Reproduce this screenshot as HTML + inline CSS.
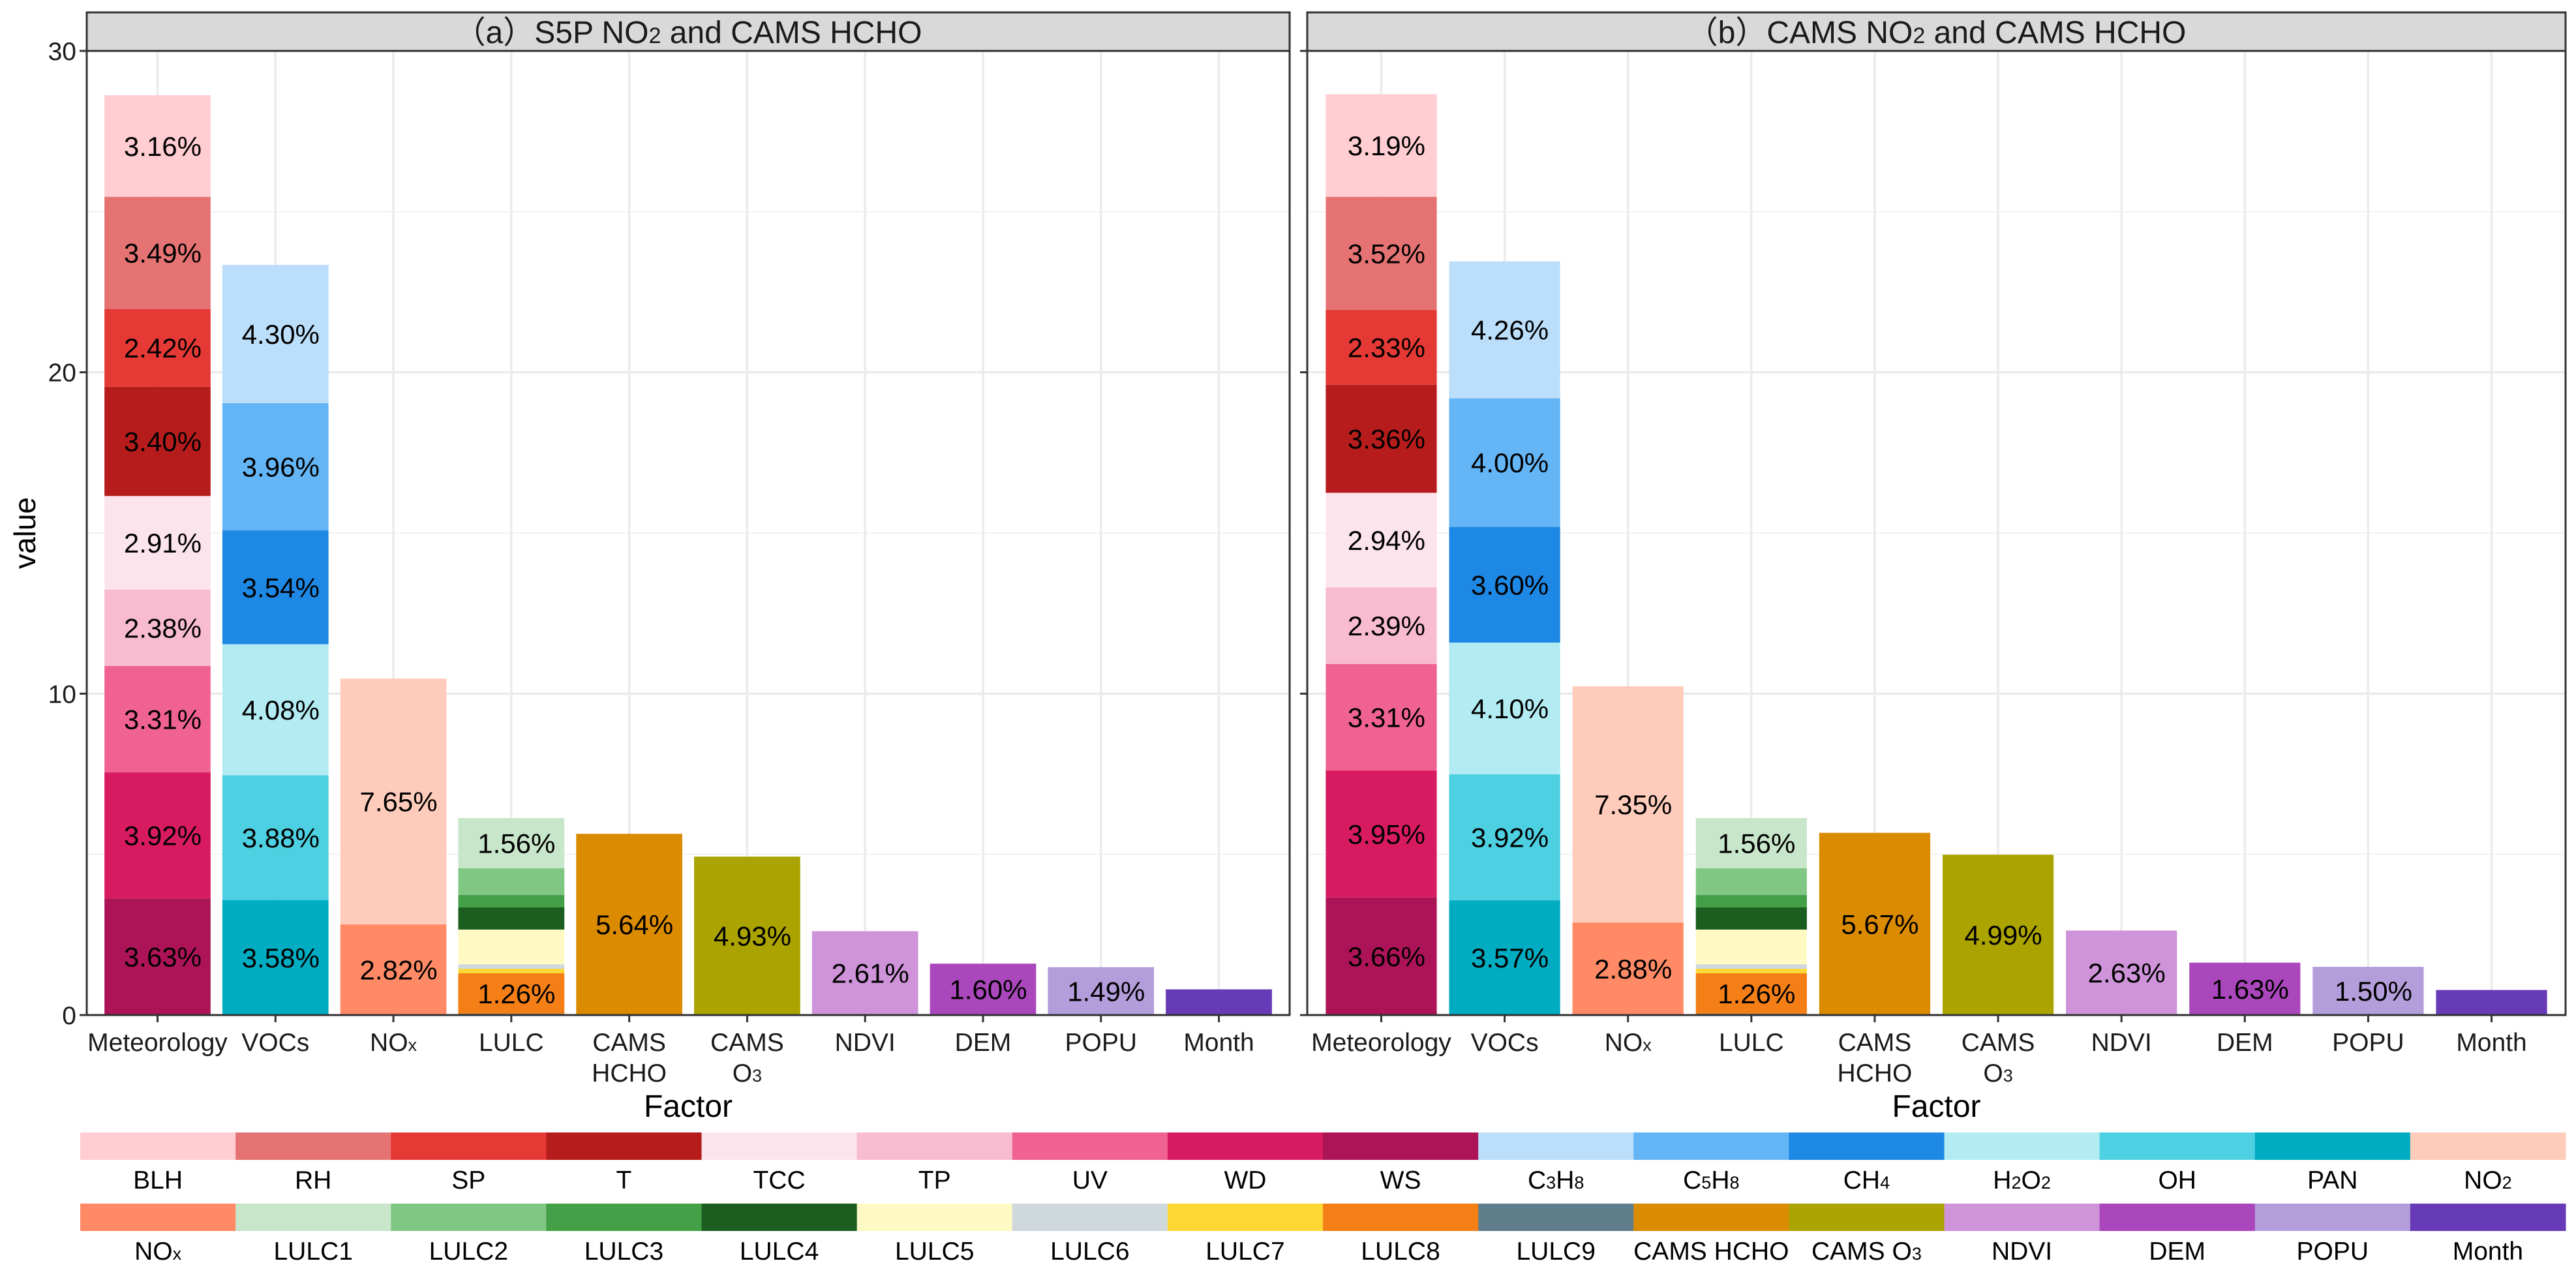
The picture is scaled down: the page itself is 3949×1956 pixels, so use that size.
<!DOCTYPE html>
<html><head><meta charset="utf-8"><style>
html,body{margin:0;padding:0;background:#fff;}
svg{display:block;font-family:"Liberation Sans",Arial,sans-serif;}
</style></head><body>
<svg id="chart" xmlns="http://www.w3.org/2000/svg" width="3949" height="1956" viewBox="0 0 3949 1956">
<rect x="0" y="0" width="3949" height="1956" fill="#fff"/>
</svg>
<script>
const factors = ['Meteorology','VOCs','NOx','LULC','CAMS HCHO','CAMS O3','NDVI','DEM','POPU','Month'];
const stackMet = ['WS','WD','UV','TP','TCC','T','SP','RH','BLH'];
const stackVOC = ['PAN','OH','H2O2','CH4','C5H8','C3H8'];
const stackNOx = ['NOx','NO2'];
const stackLULC = ['LULC9','LULC8','LULC7','LULC6','LULC5','LULC4','LULC3','LULC2','LULC1'];
const metA = [3.63,3.92,3.31,2.38,2.91,3.40,2.42,3.49,3.16];
const vocA = [3.58,3.88,4.08,3.54,3.96,4.30];
const noxA = [2.82,7.65];
const lulcA = [0.04,1.26,0.14,0.14,1.08,0.69,0.39,0.83,1.56];
const singleA = [5.64,4.93,2.61,1.60,1.49,0.80];
const metB = [3.66,3.95,3.31,2.39,2.94,3.36,2.33,3.52,3.19];
const vocB = [3.57,3.92,4.10,3.60,4.00,4.26];
const noxB = [2.88,7.35];
const lulcB = [0.04,1.26,0.14,0.14,1.08,0.69,0.39,0.83,1.56];
const singleB = [5.67,4.99,2.63,1.63,1.50,0.78];
const yTicks = [0,10,20,30];
const legendRow1 = ['BLH','RH','SP','T','TCC','TP','UV','WD','WS','C3H8','C5H8','CH4','H2O2','OH','PAN','NO2'];
const legendRow2 = ['NOx','LULC1','LULC2','LULC3','LULC4','LULC5','LULC6','LULC7','LULC8','LULC9','CAMS HCHO','CAMS O3','NDVI','DEM','POPU','Month'];
const colors = {BLH:'#FFCDD2',RH:'#E57373',SP:'#E53935',T:'#B71C1C',TCC:'#FCE4EC',TP:'#F8BBD0',UV:'#F06292',WD:'#D81B60',WS:'#AD1457',
C3H8:'#BBDEFB',C5H8:'#64B5F6',CH4:'#1E88E5',H2O2:'#B2EBF2',OH:'#4DD0E1',PAN:'#00ACC1',NO2:'#FFCCBC',NOx:'#FF8A65',
LULC1:'#C8E6C9',LULC2:'#81C784',LULC3:'#43A047',LULC4:'#1B5E20',LULC5:'#FFF9C4',LULC6:'#CFD8DC',LULC7:'#FDD835',LULC8:'#F57F17',LULC9:'#607D8B',
'CAMS HCHO':'#DB8B00','CAMS O3':'#ABA300',NDVI:'#CE93D8',DEM:'#AB47BC',POPU:'#B39DDB',Month:'#673AB7'};

const NS='http://www.w3.org/2000/svg';
const svg=document.getElementById('chart');
function mk(tag,attrs,parent){const e=document.createElementNS(NS,tag);for(const k in attrs)e.setAttribute(k,attrs[k]);(parent||svg).appendChild(e);return e;}
const subMap={NO2:['NO','2'],O3:['O','3'],C3H8:['C','3','H','8'],C5H8:['C','5','H','8'],CH4:['CH','4'],H2O2:['H','2','O','2'],NOx:['NO','x'],'CAMS O3':['CAMS O','3']};
function richText(t,str,fs){
  const parts=subMap[str];
  if(!parts){t.textContent=str;return;}
  parts.forEach((p,i)=>{const s=mk('tspan',{},t);s.textContent=p;if(i%2===1)s.setAttribute('font-size',Math.round(fs*0.7));});
}

const plotTop=78,plotBottom=1556,yMax=30;
function yScale(v){return plotBottom-(v/yMax)*(plotBottom-plotTop);}

function drawPanel(key,left,right,title,met,voc,nox,lulc,single,showLabels){
  const g=mk('g',{});
  
  
  const w=right-left, step=w/(factors.length+0.2);
  const xs=i=>left+(0.6+i)*step;
  const bw=0.9*step;
  mk('rect',{x:left,y:plotTop,width:w,height:plotBottom-plotTop,fill:'#fff'},g);
  [5,15,25].forEach(v=>{mk('line',{x1:left,x2:right,y1:yScale(v),y2:yScale(v),stroke:'#F2F2F2','stroke-width':2},g);});
  yTicks.forEach(v=>{mk('line',{x1:left,x2:right,y1:yScale(v),y2:yScale(v),stroke:'#EBEBEB','stroke-width':3.5},g);});
  factors.forEach((f,i)=>{mk('line',{x1:xs(i),x2:xs(i),y1:plotTop,y2:plotBottom,stroke:'#EBEBEB','stroke-width':3.5},g);});
  const stacks=[[stackMet,met],[stackVOC,voc],[stackNOx,nox],[stackLULC,lulc]];
  factors.forEach((f,i)=>{
    let names,vals;
    if(i<4){names=stacks[i][0];vals=stacks[i][1];}else{names=[f];vals=[single[i-4]];}
    let cum=0;
    names.forEach((n,j)=>{
      const v=vals[j];
      const r=mk('rect',{x:xs(i)-bw/2,y:yScale(cum+v),width:bw,height:yScale(cum)-yScale(cum+v),fill:colors[n]},g);
      
      
      if(v>=1.2){
        const t=mk('text',{x:xs(i)+8,y:yScale(cum+v/2)+15,'font-size':42,'text-anchor':'middle',fill:'#000'},g);
        t.textContent=v.toFixed(2)+'%';
        
        
      }
      cum+=v;
    });
    mk('line',{x1:xs(i),x2:xs(i),y1:plotBottom,y2:plotBottom+11,stroke:'#333','stroke-width':3},g);
    const lines=f==='CAMS HCHO'?['CAMS','HCHO']:(f==='CAMS O3'?['CAMS','O3']:[f]);
    lines.forEach((ln,k)=>{
      const t=mk('text',{x:xs(i),y:1611+k*47,'font-size':39,'text-anchor':'middle',fill:'#1a1a1a'},g);
      richText(t,ln,39);
      
      
    });
  });
  yTicks.forEach(v=>{
    mk('line',{x1:left-11,x2:left,y1:yScale(v),y2:yScale(v),stroke:'#333','stroke-width':3},g);
    if(showLabels){
      const t=mk('text',{x:left-16,y:yScale(v)+14,'font-size':39,'text-anchor':'end',fill:'#1a1a1a'},g);
      t.textContent=v;
      
      
    }
  });
  mk('rect',{x:left,y:plotTop,width:w,height:plotBottom-plotTop,fill:'none',stroke:'#333','stroke-width':3},g);
  const s=mk('rect',{x:left,y:19,width:w,height:plotTop-19,fill:'#D9D9D9',stroke:'#333','stroke-width':3},g);
  
  
  const st=mk('text',{x:(left+right)/2,y:66,'font-size':48,'text-anchor':'middle',fill:'#1a1a1a'},g);
  st.setAttribute('font-family','"Liberation Sans","Noto Sans CJK SC",sans-serif');
  title.forEach((p,i)=>{const sp=mk('tspan',{},st);sp.textContent=p;if(i%2===1)sp.setAttribute('font-size',34);});
  
  
  const ft=mk('text',{x:(left+right)/2,y:1712,'font-size':48,'text-anchor':'middle',fill:'#000'},g);
  ft.textContent='Factor';
  
  
}
drawPanel('a',133,1977,['（a）S5P NO','2',' and CAMS HCHO'],metA,vocA,noxA,lulcA,singleA,true);
drawPanel('b',2004,3933,['（b）CAMS NO','2',' and CAMS HCHO'],metB,vocB,noxB,lulcB,singleB,false);

const yt=mk('text',{x:0,y:0,'font-size':46,'text-anchor':'middle',fill:'#000',transform:'translate(54,817) rotate(-90)'});
yt.textContent='value';



const lg=mk('g',{});


const lx0=123,lw=(3933-123)/16;
[[legendRow1,1736,1822],[legendRow2,1845,1931]].forEach(([row,ry,ty])=>{
  row.forEach((n,i)=>{
    const r=mk('rect',{x:lx0+i*lw,y:ry,width:lw+0.5,height:42,fill:colors[n]},lg);
    
    
    const t=mk('text',{x:lx0+(i+0.5)*lw,y:ty,'font-size':39,'text-anchor':'middle',fill:'#000'},lg);
    richText(t,n,39);
    
    
  });
});
</script>
</body></html>
